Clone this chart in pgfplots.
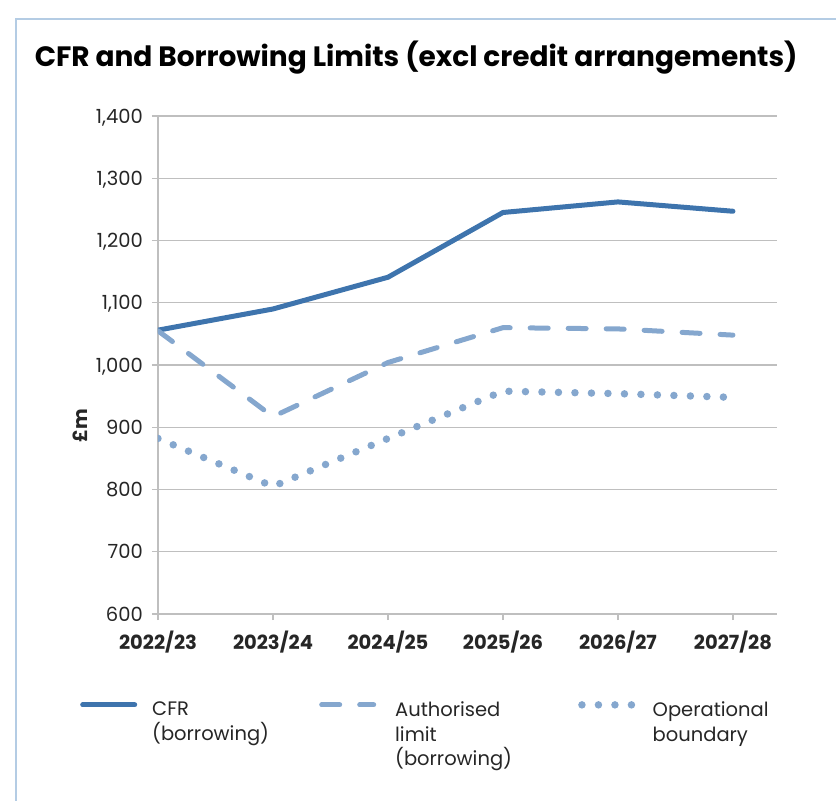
\documentclass[border=0pt]{standalone}
\usepackage{fontspec}
\setmainfont{Poppins}
\usepackage{pgfplots}
\pgfplotsset{compat=1.18}
\definecolor{cfr}{RGB}{62,116,173}
\definecolor{lim}{RGB}{133,167,206}
\definecolor{gridc}{RGB}{191,191,191}
\definecolor{framec}{RGB}{180,204,228}
\definecolor{txt}{RGB}{38,38,38}
\begin{document}
\begin{tikzpicture}
\useasboundingbox (0pt,0pt) rectangle (836pt,-801pt);
\draw[framec, line width=2pt] (16pt,-801pt) -- (16pt,-19pt) -- (836pt,-19pt);
\begin{axis}[
  at={(158pt,-614pt)}, anchor=south west,
  scale only axis, width=619pt, height=498pt,
  xmin=0, xmax=5.383, ymin=600, ymax=1400,
  axis lines*=left,
  axis line style={gridc, line width=1.3pt, -},
  ymajorgrids, grid style={gridc, line width=1.3pt},
  xtick={0,...,5},
  xticklabels={2022/23,2023/24,2024/25,2025/26,2026/27,2027/28},
  ytick={600,700,...,1400},
  tick style={gridc, line width=1.3pt},
  major tick length=6pt,
  tick align=outside,
  /pgf/number format/assume math mode=true,
  yticklabel style={font=\fontsize{19.5}{22}\selectfont, text=txt, anchor=base east, inner sep=0pt, xshift=-9pt, yshift=-7pt},
  xticklabel style={font=\fontsize{19.5}{22}\selectfont\bfseries, text=txt, anchor=base, inner sep=0pt, yshift=-29pt},
  ylabel={£m},
  ylabel style={font=\fontsize{19.5}{22}\selectfont\bfseries, text=txt, at={(rel axis cs:-0.126,0.378)}, anchor=center},
  title={CFR and Borrowing Limits (excl credit arrangements)},
  title style={font=\fontsize{28}{31}\selectfont\bfseries, at={(rel axis cs:0.417,1.088)}, anchor=base, inner sep=0pt},
  legend columns=3,
  legend image code/.code={\draw[#1] (0pt,-5pt) -- (52pt,-5pt);},
  legend style={at={(rel axis cs:-0.126,-0.172)}, anchor=north west, draw=none, fill=none,
    inner sep=0pt, font=\fontsize{19.5}{24.5}\selectfont, text=txt,
    cells={anchor=north west, inner sep=0pt},
    /tikz/column 1/.style={column sep=13pt},
    /tikz/column 2/.style={text width=165pt, align=left},
    /tikz/column 3/.style={column sep=17pt},
    /tikz/column 4/.style={text width=181pt, align=left},
    /tikz/column 5/.style={column sep=13pt},
    /tikz/column 6/.style={text width=130pt, align=left}},
]
\addplot[cfr, line width=5pt, line cap=round, line join=round] coordinates {
  (0,1056) (1,1090) (2,1141) (3,1245) (4,1262) (5,1247)
};
\addlegendentry{CFR\\(borrowing)}
\addplot[lim, line width=5pt, line cap=round, line join=round, dash pattern=on 18pt off 20pt] coordinates {
  (0,1055) (1,917) (2,1004) (3,1060) (4,1058) (5,1048)
};
\addlegendentry{Authorised\\limit\\(borrowing)}
\addplot[lim, line width=7.5pt, line cap=round, dash pattern=on 0pt off 16.5pt] coordinates {
  (0,882) (1,805) (2,882) (3,958) (4,954) (5,948)
};
\addlegendentry{Operational\\boundary}
\end{axis}
\end{tikzpicture}
\end{document}
